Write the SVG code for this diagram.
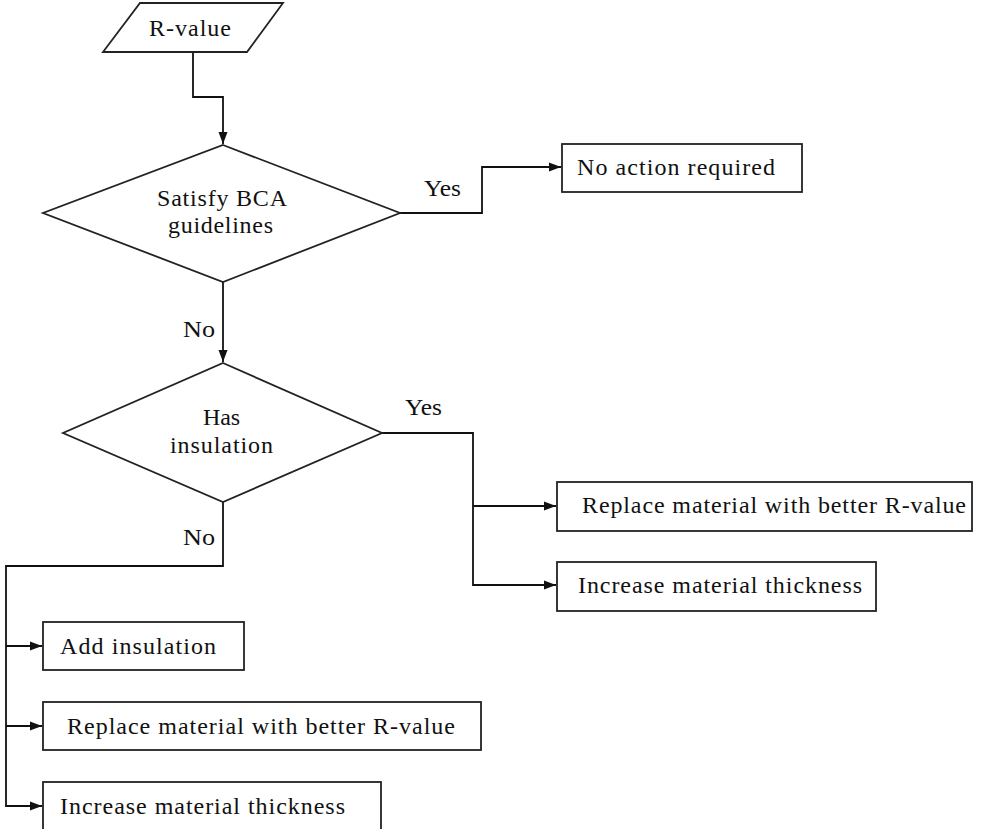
<svg xmlns="http://www.w3.org/2000/svg" width="1002" height="829" viewBox="0 0 1002 829">
<style>
.shape{fill:#fff;stroke:#222;stroke-width:1.8}
.conn{fill:none;stroke:#111;stroke-width:1.8}
text{font-family:"Liberation Serif","Times New Roman",serif;font-size:24px;fill:#111}
</style>
<defs>
<marker id="arr" viewBox="0 0 12 10" refX="12" refY="5" markerWidth="12" markerHeight="10" markerUnits="userSpaceOnUse" orient="auto">
<path d="M0,0.5 L12,5 L0,9.5 Z" fill="#111"/>
</marker>
</defs>
<rect width="1002" height="829" fill="#fff"/>
<g id="connectors">
<polyline class="conn" points="193,52 193,97 223,97 223,144" marker-end="url(#arr)"/>
<polyline class="conn" points="400,213 482,213 482,167 561,167" marker-end="url(#arr)"/>
<polyline class="conn" points="223,282 223,362" marker-end="url(#arr)"/>
<polyline class="conn" points="382,433 473,433 473,585 556,585" marker-end="url(#arr)"/>
<polyline class="conn" points="473,506 556,506" marker-end="url(#arr)"/>
<polyline class="conn" points="223,502 223,566 6,566 6,806 42,806" marker-end="url(#arr)"/>
<polyline class="conn" points="6,646 42,646" marker-end="url(#arr)"/>
<polyline class="conn" points="6,726 42,726" marker-end="url(#arr)"/>
<text x="424" y="196" textLength="37" lengthAdjust="spacingAndGlyphs">Yes</text>
<text x="183" y="337" textLength="32" lengthAdjust="spacingAndGlyphs">No</text>
<text x="405" y="415" textLength="37" lengthAdjust="spacingAndGlyphs">Yes</text>
<text x="183" y="545" textLength="32" lengthAdjust="spacingAndGlyphs">No</text>
</g>
<g id="n-rvalue">
<polygon class="shape" points="140,3 283,3 247,52 103,52"/>
<text x="149" y="36" textLength="82" lengthAdjust="spacing">R-value</text>
</g>
<g id="n-bca">
<polygon class="shape" points="223,145 400,213 223,282 43,213"/>
<text x="157" y="206" textLength="130" lengthAdjust="spacing">Satisfy BCA</text>
<text x="168" y="233" textLength="105" lengthAdjust="spacing">guidelines</text>
</g>
<g id="n-noaction">
<rect class="shape" x="562" y="144" width="240" height="48"/>
<text x="577" y="175" textLength="198" lengthAdjust="spacing">No action required</text>
</g>
<g id="n-hasins">
<polygon class="shape" points="223,363 382,433 223,502 63,433"/>
<text x="203" y="425" textLength="37" lengthAdjust="spacing">Has</text>
<text x="170" y="453" textLength="103" lengthAdjust="spacing">insulation</text>
</g>
<g id="n-replace1">
<rect class="shape" x="557" y="482" width="415" height="49"/>
<text x="582" y="513" textLength="384" lengthAdjust="spacing">Replace material with better R-value</text>
</g>
<g id="n-increase1">
<rect class="shape" x="557" y="562" width="319" height="49"/>
<text x="578" y="593" textLength="284" lengthAdjust="spacing">Increase material thickness</text>
</g>
<g id="n-add">
<rect class="shape" x="43" y="622" width="201" height="48"/>
<text x="60" y="654" textLength="156" lengthAdjust="spacing">Add insulation</text>
</g>
<g id="n-replace2">
<rect class="shape" x="43" y="702" width="438" height="48"/>
<text x="67" y="734" textLength="388" lengthAdjust="spacing">Replace material with better R-value</text>
</g>
<g id="n-increase2">
<rect class="shape" x="43" y="782" width="338" height="48"/>
<text x="60" y="814" textLength="285" lengthAdjust="spacing">Increase material thickness</text>
</g>
</svg>
